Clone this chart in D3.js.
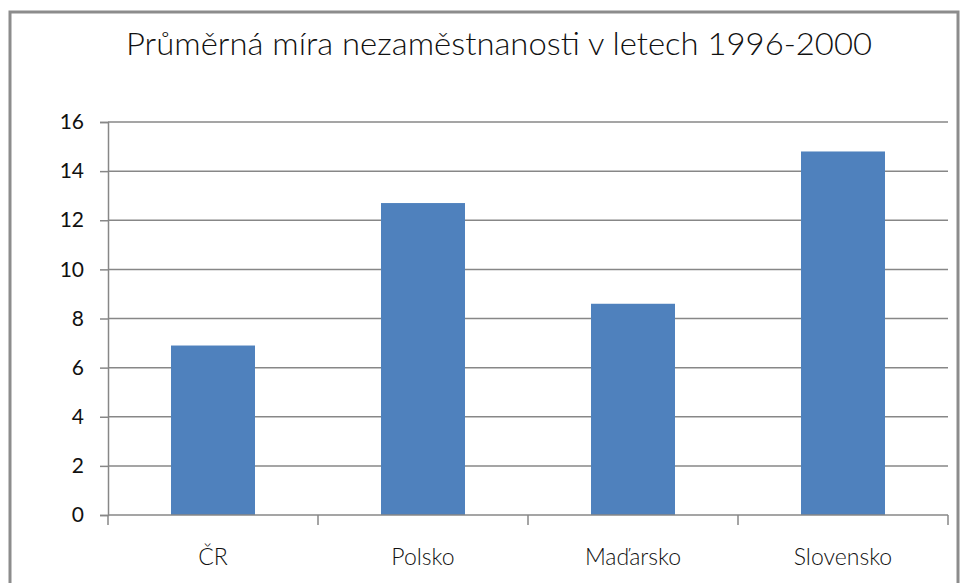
<!DOCTYPE html>
<html>
<head>
<meta charset="utf-8">
<script src="https://cdn.jsdelivr.net/npm/d3@7"></script>
<style>
  html, body { margin: 0; padding: 0; background: #fff; }
  svg { display: block; }
</style>
</head>
<body>
<svg id="chart" width="960" height="583"></svg>
<script>
// Average unemployment rate 1996–2000 by country
const categories = ["ČR", "Polsko", "Maďarsko", "Slovensko"];
const values = [6.9, 12.7, 8.6, 14.8];
const yTicks = [0, 2, 4, 6, 8, 10, 12, 14, 16];
const titleText = "Průměrná míra nezaměstnanosti v letech 1996-2000";

const svg = d3.select("#chart");
const plot = { left: 108, right: 948, top: 122, bottom: 515 };
const FONT = "Lato, 'Open Sans', sans-serif";
const GRID = "#878787";

// chart frame
svg.append("rect")
  .attr("x", 10).attr("y", 12)
  .attr("width", 948).attr("height", 620)
  .attr("fill", "#fff")
  .attr("stroke", "#8c8c8c")
  .attr("stroke-width", 3);

svg.append("text")
  .attr("x", 499).attr("y", 55)
  .attr("text-anchor", "middle")
  .attr("font-family", FONT)
  .attr("font-size", 32)
  .attr("font-weight", 300)
  .attr("textLength", 746)
  .attr("lengthAdjust", "spacingAndGlyphs")
  .attr("fill", "#111")
  .text(titleText);

const x = d3.scaleBand()
  .domain(categories)
  .range([plot.left, plot.right])
  .paddingInner(0.6)
  .paddingOuter(0.3);

const xEdges = d3.scaleLinear()
  .domain([0, categories.length])
  .range([plot.left, plot.right]);

const y = d3.scaleLinear()
  .domain([0, 16])
  .range([plot.bottom, plot.top]);

// y axis
const yAxis = d3.axisLeft(y)
  .tickValues(yTicks)
  .tickSize(8)
  .tickPadding(16)
  .tickFormat(d3.format("d"));

const gy = svg.append("g")
  .attr("transform", `translate(${plot.left},0)`)
  .call(yAxis);
gy.select(".domain").attr("stroke", GRID).attr("stroke-width", 1.5);
gy.selectAll(".tick line").attr("stroke", GRID).attr("stroke-width", 1.5);
gy.selectAll(".tick text")
  .attr("font-family", FONT)
  .attr("font-size", 21)
  .attr("fill", "#111");

// horizontal gridlines
svg.append("g")
  .selectAll("line")
  .data(yTicks.filter(d => d > 0))
  .join("line")
  .attr("x1", plot.left).attr("x2", plot.right)
  .attr("y1", d => y(d)).attr("y2", d => y(d))
  .attr("stroke", GRID)
  .attr("stroke-width", 1.5);

// bars
svg.append("g")
  .selectAll("rect")
  .data(values)
  .join("rect")
  .attr("x", (d, i) => x(categories[i]))
  .attr("width", x.bandwidth())
  .attr("y", d => y(d))
  .attr("height", d => y(0) - y(d))
  .attr("fill", "#4F81BD");

// x axis with ticks on category boundaries
const gx = svg.append("g");
gx.append("line")
  .attr("x1", plot.left).attr("x2", plot.right)
  .attr("y1", plot.bottom).attr("y2", plot.bottom)
  .attr("stroke", GRID).attr("stroke-width", 1.5);
gx.selectAll(".edge")
  .data(d3.range(categories.length + 1))
  .join("line")
  .attr("class", "edge")
  .attr("x1", d => xEdges(d)).attr("x2", d => xEdges(d))
  .attr("y1", plot.bottom).attr("y2", plot.bottom + 10)
  .attr("stroke", GRID).attr("stroke-width", 1.5);
gx.selectAll("text")
  .data(categories)
  .join("text")
  .attr("x", d => x(d) + x.bandwidth() / 2)
  .attr("y", 565)
  .attr("text-anchor", "middle")
  .attr("font-family", FONT)
  .attr("font-size", 23)
  .attr("font-weight", 300)
  .attr("fill", "#111")
  .text(d => d);
</script>
</body>
</html>
